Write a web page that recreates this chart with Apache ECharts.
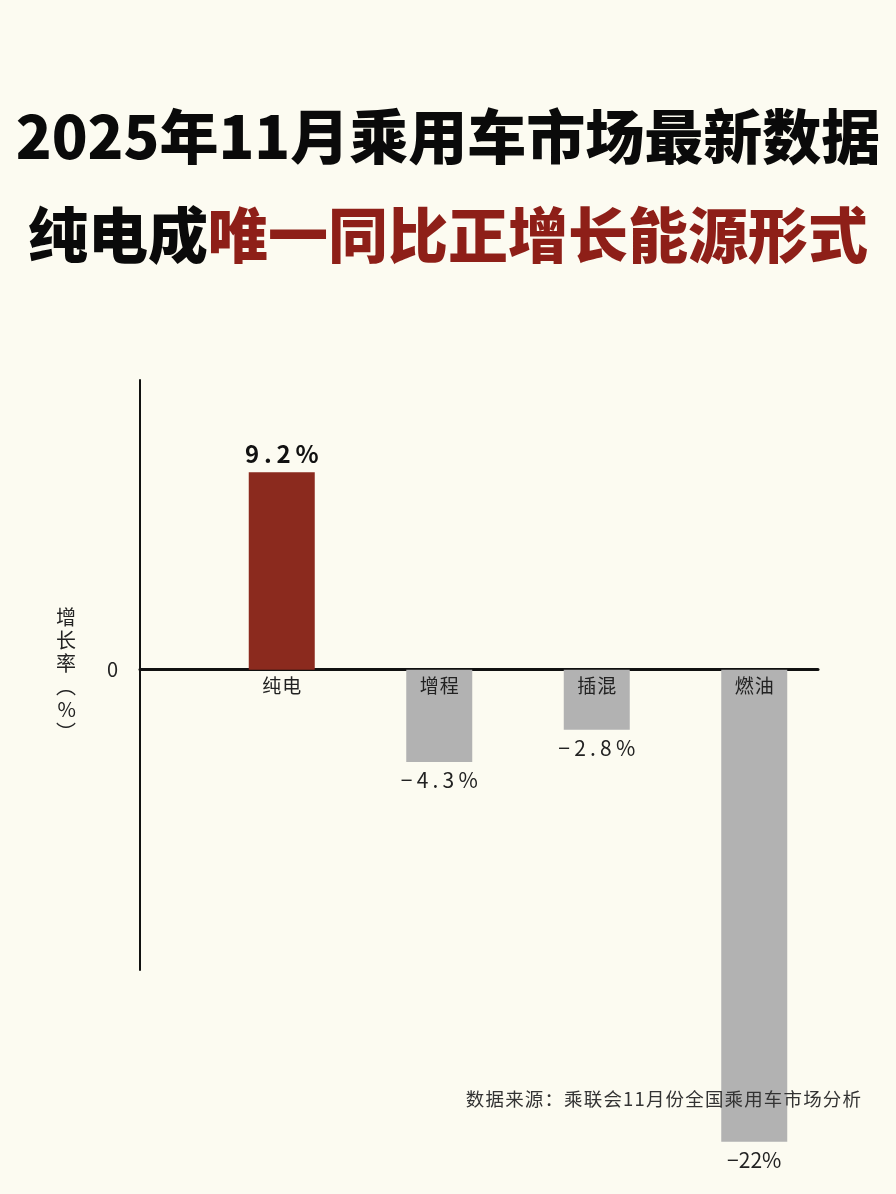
<!DOCTYPE html>
<html>
<head>
<meta charset="utf-8">
<script src="https://cdn.jsdelivr.net/npm/echarts@6/dist/echarts.min.js"></script>
<style>
html,body{margin:0;padding:0;background:#FCFBF1;}
#c{width:896px;height:1194px;}
</style>
</head>
<body>
<div id="c"></div>
<script>
const titleText = '2025年11月乘用车市场最新数据';
const subtitleBlack = '纯电成';
const subtitleRed = '唯一同比正增长能源形式';
const categories = ['纯电', '增程', '插混', '燃油'];
const growthRates = [9.2, -4.3, -2.8, -22];
const barColors = ['#8B2A1E', '#B2B2B2', '#B2B2B2', '#B2B2B2'];
const yAxisName = '增长率（%）';
const sourceText = '数据来源：乘联会11月份全国乘用车市场分析';

const FONT = '"Noto Sans CJK SC", "Noto Sans", sans-serif';
const HS = '\u200A';

function spaced(s) { return s.split('').join(HS); }
function verticalName(s) {
  return s.replace('（', '\uFE35').replace('）', '\uFE36').split('').join('\n');
}
function fmtLabel(v) {
  if (v > 0) return v.toFixed(1).split('').join('\u2009') + '\u2009%';
  if (Number.isInteger(v)) return '\u2212' + Math.abs(v) + '%';
  return '\u2212\u2009' + Math.abs(v).toFixed(1).split('').join('\u2009') + '\u2009%';
}

const Y_MIN = -14, Y_MAX = 13.5;
const GRID_TOP = 380, GRID_BOT_Y = 970;
const ZERO_Y = GRID_TOP + (Y_MAX / (Y_MAX - Y_MIN)) * (GRID_BOT_Y - GRID_TOP);

const chart = echarts.init(document.getElementById('c'), null, {renderer: 'canvas'});
chart.setOption({
  backgroundColor: '#FCFBF1',
  animation: false,
  title: [
    {
      text: titleText, left: 'center', top: 102,
      textStyle: {fontFamily: FONT, fontSize: 59, fontWeight: 900, color: '#0A0A0A'}
    },
    {
      text: '{a|' + subtitleBlack + '}{b|' + subtitleRed + '}', left: 'center', top: 200,
      textStyle: {
        rich: {
          a: {fontFamily: FONT, fontSize: 60, fontWeight: 900, color: '#0A0A0A'},
          b: {fontFamily: FONT, fontSize: 60, fontWeight: 900, color: '#8E1F18'}
        }
      }
    },
    {
      text: spaced(sourceText), right: 30, top: 1085,
      textStyle: {fontFamily: FONT, fontSize: 18.5, fontWeight: 'normal', color: '#333333'}
    }
  ],
  grid: [
    {left: 140, right: 896 - 818, top: GRID_TOP, bottom: 1194 - GRID_BOT_Y},
    {left: 203, right: 896 - 833, top: GRID_TOP, bottom: 1194 - ZERO_Y}
  ],
  xAxis: [
    {
      gridIndex: 0, type: 'category', data: [''],
      axisLine: {show: true, onZero: true, lineStyle: {color: '#111', width: 3}},
      axisTick: {show: false}, axisLabel: {show: false}, splitLine: {show: false}
    },
    {
      gridIndex: 1, type: 'category', data: categories, z: 10, position: 'bottom',
      axisLine: {show: false},
      axisTick: {show: false}, splitLine: {show: false},
      axisLabel: {show: true, margin: 7, fontFamily: FONT, fontSize: 19, color: '#222', formatter: v => spaced(v)}
    }
  ],
  yAxis: [
    {
      gridIndex: 0, type: 'value', min: Y_MIN, max: Y_MAX, interval: 0.5,
      axisLine: {show: true, lineStyle: {color: '#111', width: 2}},
      axisTick: {show: false}, splitLine: {show: false},
      axisLabel: {
        show: true, margin: 22, fontFamily: FONT, fontSize: 20, color: '#222',
        formatter: v => (Math.abs(v) < 1e-9 ? '0' : '')
      },
      name: verticalName(yAxisName), nameLocation: 'middle', nameRotate: 0, nameGap: 64,
      nameTextStyle: {fontFamily: FONT, fontSize: 20, color: '#222', lineHeight: 23}
    },
    {
      gridIndex: 1, type: 'value', min: 0, max: Y_MAX, interval: 0.5,
      axisLine: {show: false}, axisTick: {show: false}, axisLabel: {show: false}, splitLine: {show: false}
    }
  ],
  series: [
    {
      type: 'bar', xAxisIndex: 1, yAxisIndex: 1, clip: false,
      barWidth: 66,
      data: growthRates.map((v, i) => ({
        value: v,
        itemStyle: {color: barColors[i]},
        label: v > 0
          ? {show: true, position: 'top', distance: 6, fontFamily: FONT, fontSize: 24, fontWeight: 'bold', color: '#111'}
          : {show: true, position: 'bottom', distance: 8, fontFamily: FONT, fontSize: 21, color: '#222'}
      })),
      label: {show: true, formatter: p => fmtLabel(p.value)}
    }
  ]
});
</script>
</body>
</html>
